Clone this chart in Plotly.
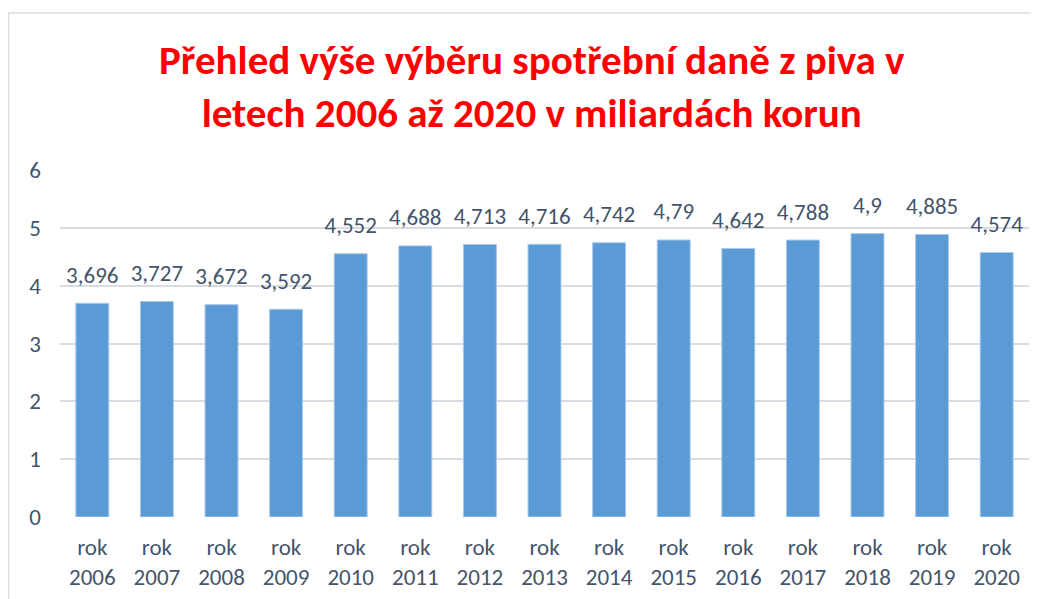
import plotly.graph_objects as go

years = ["rok<br>2006", "rok<br>2007", "rok<br>2008", "rok<br>2009", "rok<br>2010",
         "rok<br>2011", "rok<br>2012", "rok<br>2013", "rok<br>2014", "rok<br>2015",
         "rok<br>2016", "rok<br>2017", "rok<br>2018", "rok<br>2019", "rok<br>2020"]
values = [3.696, 3.727, 3.672, 3.592, 4.552, 4.688, 4.713, 4.716, 4.742, 4.79,
          4.642, 4.788, 4.9, 4.885, 4.574]
labels = ["3,696", "3,727", "3,672", "3,592", "4,552", "4,688", "4,713", "4,716",
          "4,742", "4,79", "4,642", "4,788", "4,9", "4,885", "4,574"]
y_ticks = [0, 1, 2, 3, 4, 5, 6]

FONT = "Carlito, Lato, 'Open Sans', sans-serif"
TXT = "#44546a"

fig = go.Figure()
fig.add_trace(go.Bar(
    x=years, y=values,
    marker=dict(color="#5b9bd5", line=dict(color="#a9c8ea", width=1)),
    hoverinfo="skip",
))
fig.add_trace(go.Scatter(
    x=years, y=values, text=labels, mode="markers+text",
    textposition="top center",
    textfont=dict(family=FONT, size=23, color=TXT),
    marker=dict(size=22, color="rgba(0,0,0,0)"),
    cliponaxis=False,
))

fig.update_layout(
    width=1031, height=591,
    margin=dict(l=52, r=10, t=162, b=82),
    paper_bgcolor="white", plot_bgcolor="white",
    bargap=0.49,
    showlegend=False,
    title=dict(
        text="Přehled výše výběru spotřební daně z piva v<br>letech 2006 až 2020 v miliardách korun",
        font=dict(family=FONT, size=41, color="#ff0000", weight="bold"),
        x=0.508, xanchor="center", xref="container",
        y=0.889, yanchor="top", yref="container",
    ),
    yaxis=dict(
        range=[0, 6], tickvals=y_ticks, showgrid=True, gridcolor="#d9dde3",
        gridwidth=1.5, zeroline=False, showline=False, automargin=False,
        tickfont=dict(family=FONT, size=23, color=TXT),
        ticklabelstandoff=18,
    ),
    xaxis=dict(
        range=[-0.5, len(years) - 0.5],
        showline=False, showgrid=False, automargin=False,
        tickfont=dict(family=FONT, size=23, color=TXT),
        ticklabelstandoff=14,
    ),
    shapes=[dict(type="rect", xref="paper", yref="paper",
                 x0=-0.0531, x1=1.05, y0=-0.4, y1=1.4524,
                 line=dict(color="#d9dde3", width=1.5), layer="below")],
)

fig.write_html("out.html")
